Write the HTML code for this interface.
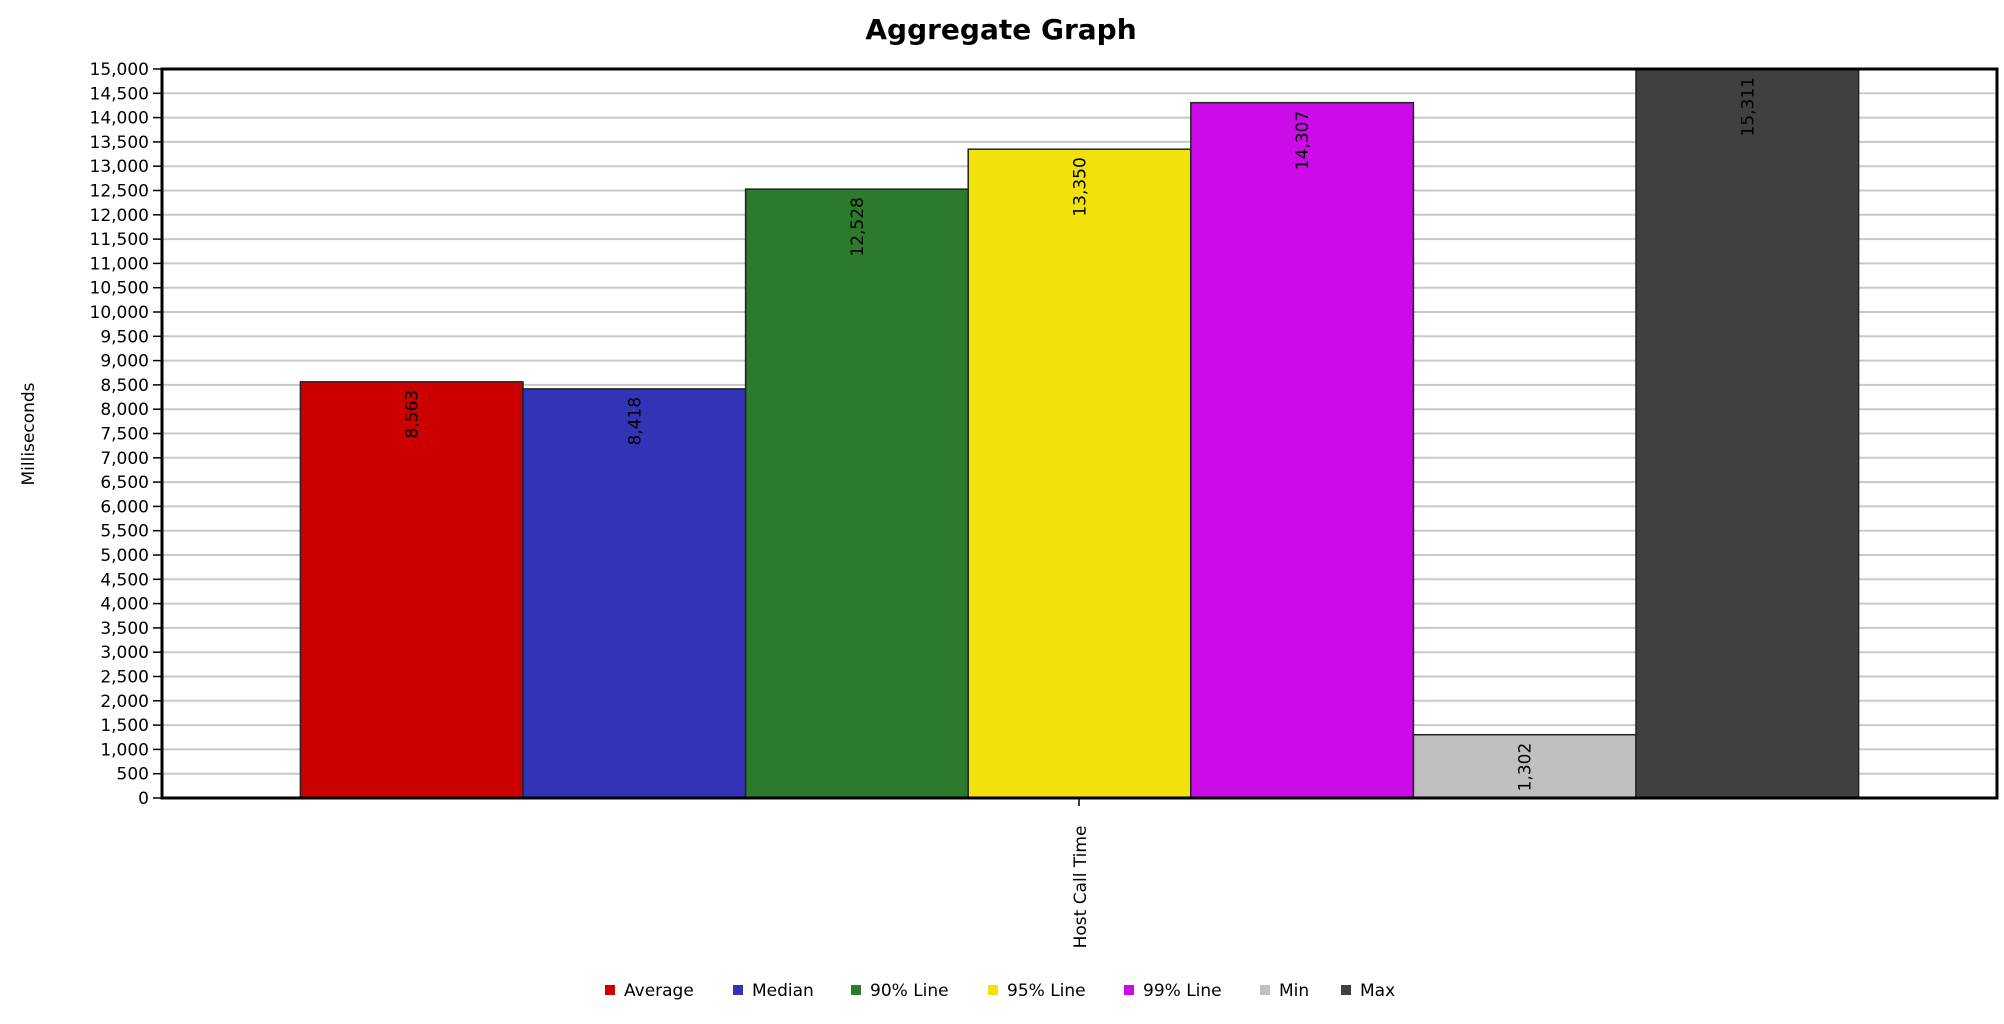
<!DOCTYPE html>
<html><head><meta charset="utf-8"><style>
html,body{margin:0;padding:0;background:#fff;}
svg{display:block;font-family:"DejaVu Sans","Liberation Sans",sans-serif;}
</style></head><body>
<svg id="chart" width="2004" height="1024" viewBox="0 0 2004 1024">
<text x="1001" y="39" text-anchor="middle" font-size="28" font-weight="bold">Aggregate Graph</text>
<text transform="translate(34,434) rotate(-90)" text-anchor="middle" font-size="17">Milliseconds</text>
<g id="grid"></g>
<g id="yaxis"></g>
<g id="bars"></g>
<rect x="162" y="69" width="1835" height="729" fill="none" stroke="#000" stroke-width="3"/>
<line x1="1079" y1="799" x2="1079" y2="806" stroke="#000" stroke-width="1.5"/>
<text id="catlabel" transform="translate(1086,887) rotate(-90)" text-anchor="middle" font-size="17">Host Call Time</text>
<g id="legend"></g>
</svg>
<script>
const categories = ["Host Call Time"];
const seriesNames = ["Average","Median","90% Line","95% Line","99% Line","Min","Max"];
const seriesValues = [8563, 8418, 12528, 13350, 14307, 1302, 15311];
const seriesColors = ["#cc0000","#3333b8","#2c7a2c","#f0e20a","#cc0ce8","#c0c0c0","#404040"];
const yTicks = [0,500,1000,1500,2000,2500,3000,3500,4000,4500,5000,5500,6000,6500,7000,7500,8000,8500,9000,9500,10000,10500,11000,11500,12000,12500,13000,13500,14000,14500,15000];

const NS="http://www.w3.org/2000/svg";
const PL=162, PR=1997, PT=69, PB=798, YMAX=15000;
function y(v){return PB-(Math.min(v,YMAX)/YMAX)*(PB-PT);}
const barW=222.6, groupW=barW*seriesValues.length;
function x(i){const c=(PL+PR)/2;return c-groupW/2+i*barW;}
function fmt(v){return v.toLocaleString("en-US");}
function mk(tag,attrs,parent){const e=document.createElementNS(NS,tag);for(const k in attrs)e.setAttribute(k,attrs[k]);parent.appendChild(e);return e;}

const grid=document.getElementById("grid"), ya=document.getElementById("yaxis");
yTicks.forEach(t=>{
  const yy=y(t);
  if(t>0&&t<YMAX){const g=mk("line",{x1:PL,x2:PR,y1:yy,y2:yy,stroke:"#c8c8c8","stroke-width":2},grid);
  
  }
  const tk=mk("line",{x1:PL-9,x2:PL,y1:yy,y2:yy,stroke:"#000","stroke-width":1.5},ya);
  
  
  const lb=mk("text",{x:PL-13,y:yy+6,"text-anchor":"end","font-size":17},ya);
  lb.textContent=fmt(t);
  
  
});

const bars=document.getElementById("bars");
seriesValues.forEach((v,i)=>{
  const x0=x(i), yt=y(v);
  const r=mk("rect",{x:x0,y:yt,width:barW,height:PB-yt,fill:seriesColors[i],stroke:"#222","stroke-width":1.5},bars);
  
  
  const cx=x0+barW/2, ty=Math.max(yt,PT)+8;
  const t=mk("text",{transform:`translate(${cx+6},${ty}) rotate(-90)`,"text-anchor":"end","font-size":17},bars);
  t.textContent=fmt(v);
  
  
});
document.getElementById("catlabel").textContent=categories[0];

const legend=document.getElementById("legend");
const legX=[610,738,856,993,1129,1265,1346];
seriesNames.forEach((n,i)=>{
  const g=mk("g",{},legend);
  
  
  mk("rect",{x:legX[i]-5,y:985,width:10,height:10,fill:seriesColors[i]},g);
  const t=mk("text",{x:legX[i]+14,y:996,"font-size":17},g);
  t.textContent=n;
});
</script>
</body></html>
